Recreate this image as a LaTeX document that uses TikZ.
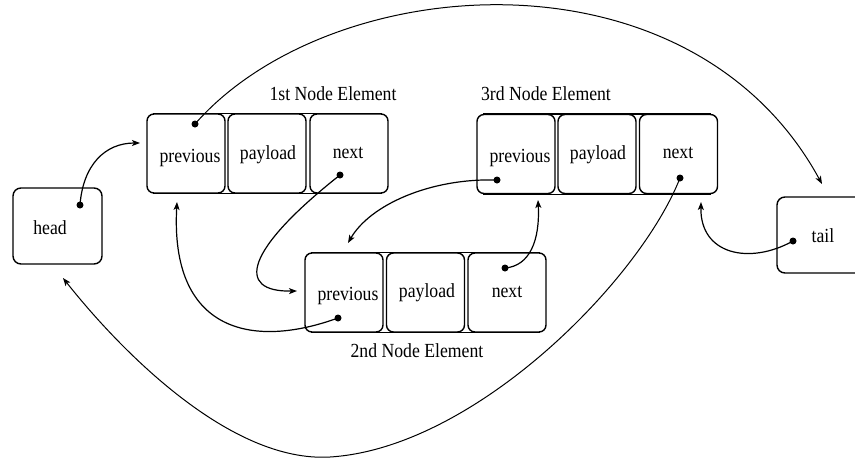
\documentclass[tikz,border=0pt]{standalone}
\usepackage{fontspec}
\setmainfont{Liberation Serif}
\usetikzlibrary{arrows.meta}
\newcommand\lbltxt[1]{\scalebox{1}[1.13]{#1}}
\begin{document}
\begin{tikzpicture}[x=1pt,y=-1pt,
  cellbox/.style={draw, line width=1.4pt, rounded corners=7pt, minimum width=78pt, minimum height=79pt, inner sep=0pt},
  sidebox/.style={draw, line width=1.4pt, rounded corners=8pt, inner sep=0pt},
  lbl/.style={anchor=base, inner sep=0pt, font=\fontsize{17.7}{20}\selectfont},
  ptr/.style={line width=1.2pt, -{Stealth[length=8pt,width=6pt,inset=2pt]}},
  thinptr/.style={line width=1pt, -{Stealth[length=8pt,width=6pt,inset=2pt]}},
  dotc/.style={fill=black}]
\path[fill=white, use as bounding box] (0,0) rectangle (855,458);

% element 1
\node[cellbox] (n1p) at (186,153.5) {};
\node[cellbox] (n1d) at (267,153.5) {};
\node[cellbox] (n1n) at (349,153.5) {};
% element 3
\node[cellbox] (n3p) at (516,154) {};
\node[cellbox] (n3d) at (597,154) {};
\node[cellbox] (n3n) at (678.5,154) {};
% element 2
\node[cellbox] (n2p) at (344,292.5) {};
\node[cellbox] (n2d) at (425.5,292.5) {};
\node[cellbox] (n2n) at (507,292.5) {};

\foreach \a/\b in {n1p/n1n, n3p/n3n, n2p/n2n}{
  \draw[line width=1.4pt] ([xshift=7pt]\a.north west) -- ([xshift=-7pt]\b.north east);
  \draw[line width=1.4pt] ([xshift=7pt]\a.south west) -- ([xshift=-7pt]\b.south east);
}

\node[sidebox, minimum width=89pt, minimum height=76pt] (head) at (57.5,226) {};
\node[sidebox, minimum width=93pt, minimum height=76pt] (tail) at (823.5,235) {};

% texts
\node[lbl] (t1p) at (190,162) {\lbltxt{previous}};
\node[lbl] (t1d) at (268,159) {\lbltxt{payload}};
\node[lbl] (t1n) at (348,158) {\lbltxt{next}};
\node[lbl] (t3p) at (520,162) {\lbltxt{previous}};
\node[lbl] (t3d) at (598,159) {\lbltxt{payload}};
\node[lbl] (t3n) at (678,158) {\lbltxt{next}};
\node[lbl] (t2p) at (348,300) {\lbltxt{previous}};
\node[lbl] (t2d) at (427,297) {\lbltxt{payload}};
\node[lbl] (t2n) at (507,297) {\lbltxt{next}};
\node[lbl] (thead) at (50,234) {\lbltxt{head}};
\node[lbl] (ttail) at (823,242) {\lbltxt{tail}};
\node[lbl] (title1) at (333,100) {\lbltxt{1st Node Element}};
\node[lbl] (title3) at (546,100) {\lbltxt{3rd Node Element}};
\node[lbl] (title2) at (417,357) {\lbltxt{2nd Node Element}};

% dots
\coordinate (dh) at (80,205);
\coordinate (d1p) at (195,124);
\coordinate (d1n) at (340,175);
\coordinate (d3p) at (497,180);
\coordinate (d3n) at (680,178);
\coordinate (d2n) at (505,268);
\coordinate (d2p) at (338,318);
\coordinate (dt) at (793,241);
% tips
\coordinate (a1) at (140,143);
\coordinate (a2) at (822,184);
\coordinate (a3) at (297,291);
\coordinate (a4) at (177,202);
\coordinate (a5) at (348,243);
\coordinate (a6) at (538,200);
\coordinate (a7) at (63,278);
\coordinate (a8) at (701,202);
\coordinate (bot) at (330,457);

\draw[ptr] (dh) .. controls (83,165) and (105,143) .. (a1);
\draw[thinptr] (d1p) .. controls (330,-30) and (690,-58) .. (a2);
\draw[ptr] (d1n) .. controls (245,250) and (235,292) .. (a3);
\draw[ptr] (d2p) .. controls (250,350) and (170,330) .. (a4);
\draw[ptr] (d3p) .. controls (430,178) and (370,205) .. (a5);
\draw[ptr] (d2n) .. controls (530,266) and (540,240) .. (a6);
\draw[thinptr] (d3n) .. controls (640,280) and (475,448) .. (bot) .. controls (230,463) and (120,350) .. (a7);
\draw[ptr] (dt) .. controls (750,265) and (700,255) .. (a8);

\foreach \d in {dh,d1p,d1n,d3p,d3n,d2n,d2p,dt}{
  \fill[dotc] (\d) circle (3.5pt);
}
\end{tikzpicture}
\end{document}
